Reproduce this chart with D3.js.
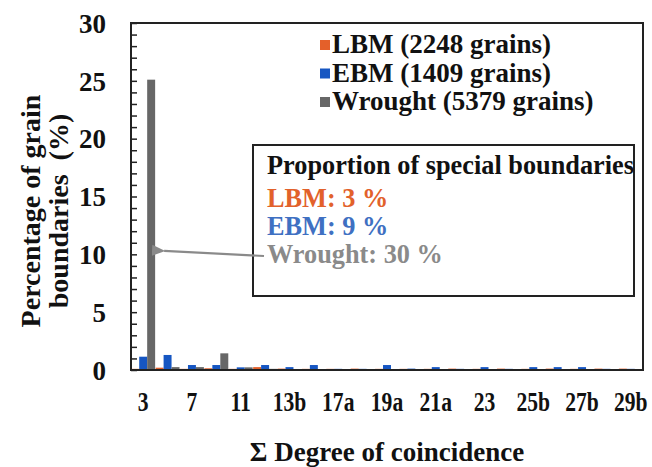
<!DOCTYPE html>
<html>
<head>
<meta charset="utf-8">
<script src="https://cdn.jsdelivr.net/npm/d3@7"></script>
<style>
  body { margin: 0; background: #fff; }
</style>
</head>
<body>
<script>
// sigma values (CSL) on the x axis
var categories = ["3", "5", "7", "9", "11", "13a", "13b", "15", "17a", "17b", "19a",
  "19b", "21a", "21b", "23", "25a", "25b", "27a", "27b", "29a", "29b"];
var shownLabels = ["3", "7", "11", "13b", "17a", "19a", "21a", "23", "25b", "27b", "29b"];
var seriesNames = ["LBM", "EBM", "Wrought"];
var legendLabels = ["LBM (2248 grains)", "EBM (1409 grains)", "Wrought (5379 grains)"];

var lbmValues = [0.1, 0.2, 0.1, 0.15, 0.1, 0.25, 0.12, 0.1, 0.1, 0.12, 0.1,
  0.1, 0.1, 0.12, 0.1, 0.12, 0.1, 0.12, 0.1, 0.12, 0.12];
var ebmValues = [1.15, 1.3, 0.43, 0.43, 0.23, 0.43, 0.25, 0.43, 0.1, 0.1, 0.43,
  0.12, 0.25, 0.1, 0.25, 0.1, 0.25, 0.25, 0.25, 0.1, 0.1];
var wroughtValues = [25.1, 0.25, 0.25, 1.44, 0.23, 0.1, 0.08, 0.05, 0.05, 0.05, 0.05,
  0.05, 0.05, 0.03, 0.03, 0.03, 0.03, 0.03, 0.03, 0.03, 0.03];

var yTicks = [0, 5, 10, 15, 20, 25, 30];
var proportionLines = ["LBM: 3 %", "EBM: 9 %", "Wrought: 30 %"];

var colors = { LBM: "#e4602a", EBM: "#1656c2", Wrought: "#676767" };
var noteColors = { LBM: "#e2612b", EBM: "#3f70c2", Wrought: "#8a8a8a" };
var FONT = "'Liberation Serif', Tinos, 'Times New Roman', 'Nimbus Roman', 'DejaVu Serif', serif";

var width = 652, height = 467;
var margin = { top: 23, right: 9, bottom: 97, left: 131 };
var w = width - margin.left - margin.right;
var h = height - margin.top - margin.bottom;

var svg = d3.select("body").append("svg")
  .attr("width", width)
  .attr("height", height);

var g = svg.append("g")
  .attr("transform", "translate(" + margin.left + "," + margin.top + ")");

var x = d3.scaleBand().domain(categories).range([0, w]).paddingInner(0.02).paddingOuter(0.01);
var xSub = d3.scaleBand().domain(seriesNames).range([0, x.bandwidth()]);
var y = d3.scaleLinear().domain([0, 30]).range([h, 0]);

var rows = categories.map(function(c, i) {
  return { cat: c, LBM: lbmValues[i], EBM: ebmValues[i], Wrought: wroughtValues[i] };
});

// bars
var groups = g.selectAll(".cat")
  .data(rows)
  .enter()
  .append("g")
  .attr("transform", function(d) { return "translate(" + x(d.cat) + ",0)"; });

groups.selectAll("rect")
  .data(function(d) { return seriesNames.map(function(s) { return { key: s, value: d[s] }; }); })
  .enter()
  .append("rect")
  .attr("x", function(d) { return xSub(d.key); })
  .attr("y", function(d) { return y(d.value); })
  .attr("width", xSub.bandwidth())
  .attr("height", function(d) { return h - y(d.value); })
  .attr("fill", function(d) { return colors[d.key]; });

// y axis, ticks inward every 1 %
var yAxis = g.append("g")
  .call(d3.axisLeft(y).tickValues(d3.range(0, 31, 1)).tickSize(-6).tickFormat(""));
yAxis.select(".domain").remove();
yAxis.selectAll("line").attr("stroke", "#222").attr("stroke-width", 1.5);

var yLabels = g.append("g")
  .call(d3.axisLeft(y).tickValues(yTicks).tickSize(0).tickPadding(25));
yLabels.select(".domain").remove();
yLabels.selectAll("text")
  .attr("dy", "0.34em");

// x axis labels (every other sigma)
var xAxis = g.append("g")
  .attr("transform", "translate(0," + h + ")")
  .call(d3.axisBottom(x).tickSize(0).tickPadding(22)
    .tickFormat(function(d) { return shownLabels.indexOf(d) >= 0 ? d : ""; }));
xAxis.select(".domain").remove();
xAxis.selectAll("text")
  .attr("transform", "scale(0.8,1)");

[yLabels, xAxis].forEach(function(ax) {
  ax.attr("font-family", null).attr("font-size", null);
  ax.selectAll("text")
    .style("font-family", FONT)
    .style("font-weight", "bold")
    .style("font-size", "27px")
    .attr("fill", "#111");
});

// plot frame
g.append("rect")
  .attr("width", w)
  .attr("height", h)
  .attr("fill", "none")
  .attr("stroke", "#222")
  .attr("stroke-width", 2);

function label(sel, size, fill) {
  return sel.style("font-family", FONT)
    .style("font-weight", "bold")
    .style("font-size", size + "px")
    .attr("fill", fill || "#111");
}

// axis titles
label(svg.append("text"), 27)
  .attr("x", margin.left + w / 2)
  .attr("y", 461)
  .attr("text-anchor", "middle")
  .text("\u03a3 Degree of coincidence");

var yTitle = label(svg.append("text"), 28)
  .attr("transform", "translate(40,211) rotate(-90)")
  .attr("text-anchor", "middle");
yTitle.append("tspan").attr("x", 0).attr("dy", 0).text("Percentage of grain");
yTitle.append("tspan").attr("x", 0).attr("dy", 28).text("boundaries\u00a0\u00a0(%)");

// legend
var legend = svg.append("g").attr("transform", "translate(320,40)");
legendLabels.forEach(function(lab, i) {
  var row = legend.append("g").attr("transform", "translate(0," + (i * 28.5) + ")");
  row.append("rect")
    .attr("width", 10).attr("height", 10)
    .attr("fill", colors[seriesNames[i]]);
  label(row.append("text"), 27)
    .attr("x", 12)
    .attr("y", 13)
    .text(lab);
});

// annotation box
svg.append("rect")
  .attr("x", 253).attr("y", 145)
  .attr("width", 381).attr("height", 151)
  .attr("fill", "#fff")
  .attr("stroke", "#222")
  .attr("stroke-width", 2);

label(svg.append("text"), 26.3)
  .attr("x", 267).attr("y", 174)
  .text("Proportion of special boundaries");

proportionLines.forEach(function(t, i) {
  label(svg.append("text"), 26.3, noteColors[seriesNames[i]])
    .attr("x", 267).attr("y", 207 + i * 28)
    .text(t);
});

// arrow pointing at the wrought sigma-3 bar
svg.append("defs").append("marker")
  .attr("id", "arrow")
  .attr("viewBox", "0 0 12 10")
  .attr("refX", 1).attr("refY", 5)
  .attr("markerWidth", 6).attr("markerHeight", 5)
  .attr("orient", "auto")
  .append("path")
  .attr("d", "M12,0 L0,5 L12,10 z")
  .attr("fill", "#8a8a8a");

var tipX = margin.left + x("3") + xSub("Wrought") + xSub.bandwidth() + 6;
svg.append("line")
  .attr("x1", 264).attr("y1", 256)
  .attr("x2", tipX + 3).attr("y2", margin.top + y(10.3))
  .attr("stroke", "#8a8a8a")
  .attr("stroke-width", 2.2)
  .attr("marker-end", "url(#arrow)");
</script>
</body>
</html>
